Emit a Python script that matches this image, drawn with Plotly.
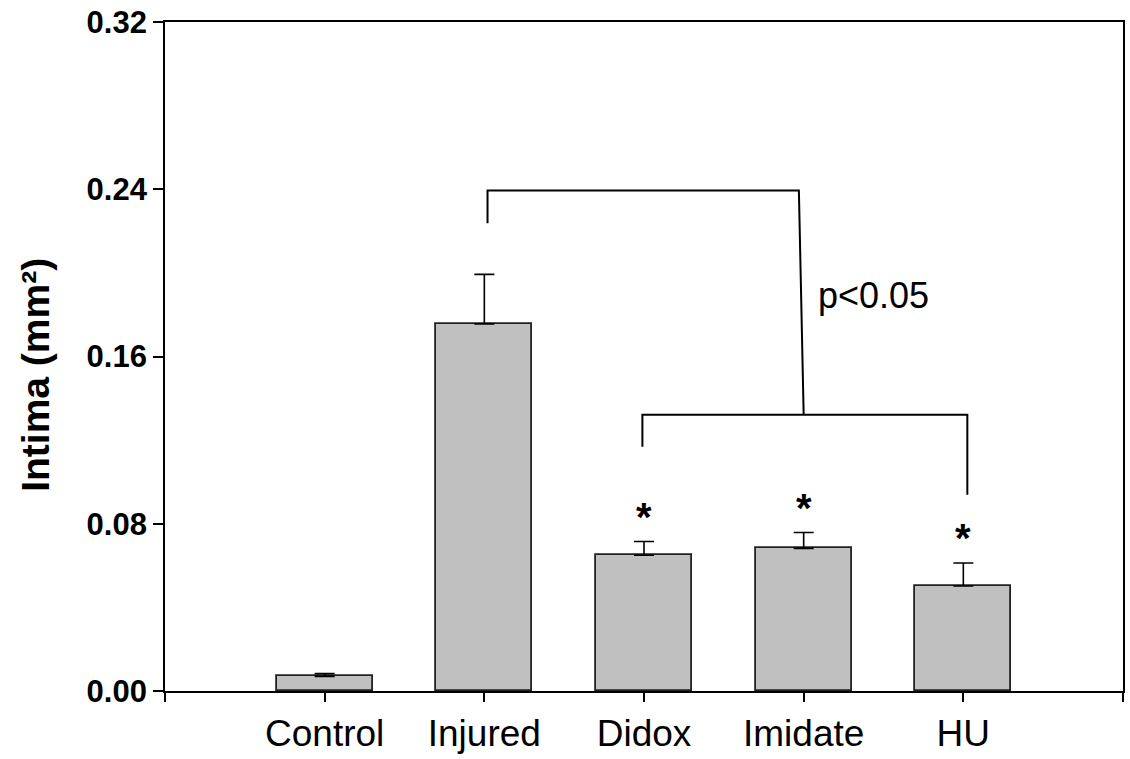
import plotly.graph_objects as go

categories = ["Control", "Injured", "Didox", "Imidate", "HU"]
means = [0.0070, 0.1756, 0.0649, 0.0682, 0.0502]
sems = [0.0013, 0.0237, 0.0066, 0.0076, 0.0110]
significant = [False, False, True, True, True]
y_ticks = [0.00, 0.08, 0.16, 0.24, 0.32]
y_tick_labels = ["0.00", "0.08", "0.16", "0.24", "0.32"]

FONT = "Liberation Sans, Arial, sans-serif"
xs = list(range(len(categories)))

fig = go.Figure()
fig.add_trace(go.Bar(
    x=xs, y=means, width=0.6,
    marker=dict(color="#c0c0c0", line=dict(color="#222222", width=1.8)),
    error_y=dict(type="data", array=sems, arrayminus=[0] * len(sems), symmetric=False,
                 color="black", thickness=1.6, width=10),
    showlegend=False, hoverinfo="skip",
))

# significance asterisks
for i, (m, s, sig) in enumerate(zip(means, sems, significant)):
    if sig:
        fig.add_annotation(x=i, y=m + s, text="<b>*</b>", showarrow=False,
                           xanchor="center", yanchor="bottom", yshift=1,
                           font=dict(family=FONT, size=40, color="black"))

# brackets
top_y = 0.2394
top_drop = 0.2237
low_y = 0.1321
low_left_drop = 0.1168
low_right_drop = 0.0939
lw = dict(color="black", width=2)
inj, did, hu = 1, 2, 4
fig.add_shape(type="path",
              path=f"M {inj + 0.02},{top_drop} L {inj + 0.02},{top_y} L {2.97},{top_y} L {3.0},{low_y}",
              line=lw, xref="x", yref="y")
fig.add_shape(type="path",
              path=f"M {did - 0.01},{low_left_drop} L {did - 0.01},{low_y} L {hu + 0.025},{low_y} L {hu + 0.025},{low_right_drop}",
              line=lw, xref="x", yref="y")
fig.add_annotation(x=3.44, y=0.1893, text="p<0.05", showarrow=False,
                   xanchor="center", yanchor="middle",
                   font=dict(family=FONT, size=36, color="black"))

# y-axis title
fig.add_annotation(xref="paper", yref="paper", x=-0.1354, y=0.473,
                   text="<b>Intima (mm²)</b>", textangle=-90, showarrow=False,
                   xanchor="center", yanchor="middle",
                   font=dict(family=FONT, size=39, color="black"))

fig.update_layout(
    width=1130, height=759,
    margin=dict(l=165, r=5, t=22, b=67),
    paper_bgcolor="white", plot_bgcolor="white",
    bargap=0,
    xaxis=dict(
        range=[-1, 5],
        tickmode="array",
        tickvals=[-1] + xs + [5],
        ticktext=[""] + categories + [""],
        ticks="outside", ticklen=9, tickwidth=1.5, tickcolor="black",
        showline=True, linecolor="black", linewidth=1.8, mirror=True,
        showgrid=False, zeroline=False,
        tickfont=dict(family=FONT, size=37, color="black"),
    ),
    yaxis=dict(
        range=[0, 0.32],
        tickmode="array",
        tickvals=y_ticks, ticktext=y_tick_labels,
        ticks="outside", ticklen=10, tickwidth=1.5, tickcolor="black",
        showline=True, linecolor="black", linewidth=1.8, mirror=True,
        showgrid=False, zeroline=False,
        tickfont=dict(family=FONT, size=31, color="black", weight="bold"),
    ),
)

fig.write_html("out.html")
